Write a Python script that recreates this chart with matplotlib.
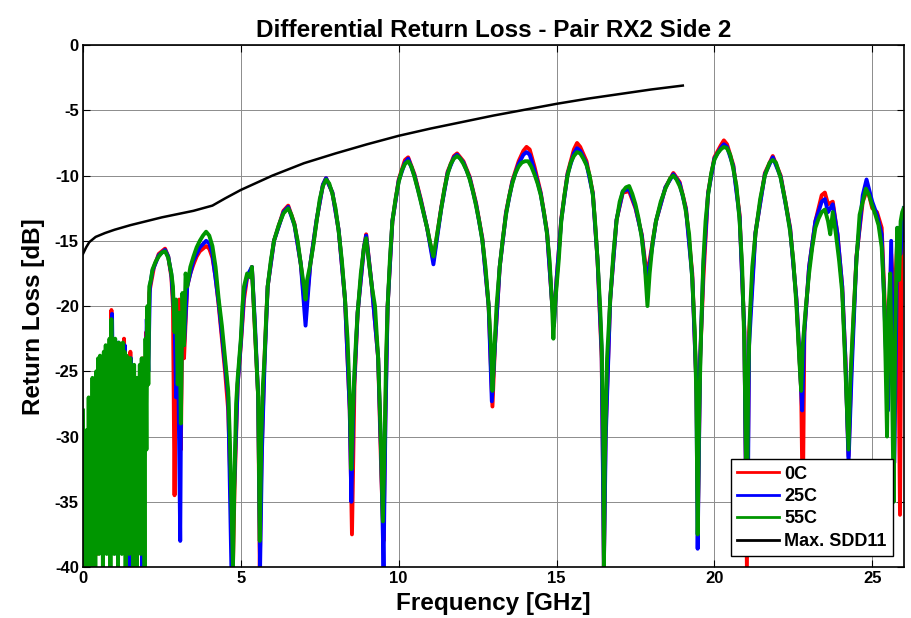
import matplotlib
matplotlib.use("Agg")
import matplotlib.pyplot as plt

# ---- 55C (green, drawn on top) ----
freq_55c = [
    0.00, 0.03, 0.06, 0.09, 0.12, 0.15, 0.18, 0.21, 0.24, 0.27, 0.30, 0.33, 0.36, 0.39, 0.42,
    0.45, 0.48, 0.51, 0.54, 0.57, 0.60, 0.63, 0.66, 0.69, 0.72, 0.75, 0.78, 0.81, 0.84, 0.87,
    0.90, 0.93, 0.96, 0.99, 1.02, 1.05, 1.08, 1.11, 1.14, 1.17, 1.20, 1.23, 1.26, 1.29, 1.32,
    1.35, 1.38, 1.41, 1.44, 1.47, 1.50, 1.53, 1.56, 1.59, 1.62, 1.65, 1.68, 1.71, 1.74, 1.77,
    1.80, 1.83, 1.86, 1.89, 1.92, 1.95, 1.98, 2.01, 2.04, 2.07, 2.10,
    2.15, 2.2, 2.3, 2.4, 2.5, 2.6, 2.7, 2.8, 2.85, 2.9, 2.95, 3.0, 3.05, 3.1, 3.15, 3.2, 3.25,
    3.3, 3.4, 3.5, 3.6, 3.7, 3.8, 3.9, 4.0, 4.1, 4.2, 4.3, 4.4, 4.5, 4.6, 4.65, 4.7, 4.75,
    4.8, 4.85, 4.9, 5.0, 5.05, 5.1, 5.2, 5.3, 5.35, 5.4, 5.45, 5.5, 5.55, 5.6, 5.65, 5.7,
    5.75, 5.8, 5.85, 5.95, 6.05, 6.2, 6.35, 6.5, 6.6, 6.7, 6.8, 6.9, 7.0, 7.05, 7.1, 7.2,
    7.3, 7.4, 7.5, 7.6, 7.7, 7.8, 7.9, 8.0, 8.1, 8.2, 8.3, 8.38, 8.45, 8.5, 8.55, 8.6, 8.65,
    8.7, 8.8, 8.9, 8.97, 9.05, 9.15, 9.25, 9.35, 9.42, 9.5, 9.56, 9.6, 9.65, 9.72, 9.8, 9.9,
    10.0, 10.1, 10.2, 10.3, 10.4, 10.5, 10.6, 10.7, 10.8, 10.9, 11.0, 11.1, 11.15, 11.25,
    11.35, 11.45, 11.55, 11.65, 11.75, 11.85, 11.95, 12.05, 12.15, 12.25, 12.35, 12.45,
    12.55, 12.65, 12.75, 12.85, 12.92, 12.97, 13.02, 13.1, 13.2, 13.3, 13.4, 13.5, 13.6,
    13.7, 13.8, 13.9, 14.0, 14.1, 14.2, 14.3, 14.4, 14.5, 14.6, 14.7, 14.78, 14.85, 14.9,
    14.95, 15.0, 15.07, 15.15, 15.25, 15.35, 15.45, 15.55, 15.65, 15.75, 15.85, 15.95,
    16.05, 16.15, 16.22, 16.3, 16.38, 16.43, 16.48, 16.5, 16.53, 16.6, 16.7, 16.8, 16.9,
    17.0, 17.1, 17.2, 17.3, 17.4, 17.5, 17.6, 17.7, 17.8, 17.88, 17.95, 18.05, 18.15, 18.3,
    18.45, 18.6, 18.7, 18.8, 18.9, 19.0, 19.1, 19.2, 19.3, 19.38, 19.43, 19.47, 19.52,
    19.58, 19.65, 19.72, 19.8, 19.9, 20.0, 20.1, 20.2, 20.3, 20.4, 20.5, 20.6, 20.7, 20.8,
    20.88, 20.95, 21.0, 21.03, 21.07, 21.12, 21.2, 21.3, 21.45, 21.6, 21.75, 21.85, 21.95,
    22.1, 22.25, 22.4, 22.5, 22.6, 22.7, 22.75, 22.8, 22.9, 23.0, 23.1, 23.2, 23.3, 23.4,
    23.5, 23.6, 23.67, 23.75, 23.85, 23.95, 24.05, 24.12, 24.2, 24.25, 24.3, 24.4, 24.5,
    24.6, 24.7, 24.8, 24.9, 25.0, 25.1, 25.2, 25.3, 25.37, 25.42, 25.47, 25.52, 25.57,
    25.62, 25.68, 25.73, 25.79, 25.85, 25.9, 25.95, 26.0,
]
rl_55c = [
    -28.0, -40.0, -31.0, -39.0, -29.5, -40.0, -27.0, -38.0, -28.0, -40.0, -25.5, -37.0, -26.5, -40.0, -25.0,
    -38.0, -24.0, -39.0, -23.8, -37.0, -24.5, -40.0, -23.5, -36.0, -23.0, -39.0, -24.0, -37.0, -22.5, -40.0,
    -21.0, -36.0, -22.5, -39.0, -22.5, -37.0, -23.5, -40.0, -22.8, -38.0, -23.0, -39.0, -22.8, -36.0, -23.5,
    -40.0, -23.8, -37.0, -24.0, -39.0, -24.0, -36.0, -25.0, -40.0, -24.5, -37.0, -25.5, -40.0, -25.5, -36.0,
    -24.5, -39.0, -24.0, -35.0, -24.5, -40.0, -22.5, -31.0, -20.0, -26.0, -18.5,
    -18.0, -17.2, -16.6, -16.2, -15.9, -15.8, -16.3, -17.5, -18.5, -22.0, -19.5, -26.0, -20.5, -29.0, -19.0, -23.0, -17.5,
    -18.5, -17.0, -16.2, -15.5, -15.0, -14.6, -14.3, -14.6, -15.4, -17.0, -19.5, -21.5, -24.0, -26.5, -30.0, -35.0, -40.0,
    -33.0, -27.5, -25.5, -22.5, -20.0, -18.5, -17.5, -17.8, -17.0, -19.5, -22.0, -24.5, -27.0, -38.0, -30.0, -26.0,
    -24.0, -21.0, -18.5, -16.5, -15.0, -13.8, -12.9, -12.5, -13.0, -13.8, -15.0, -16.8, -18.5, -19.5, -18.0, -16.8,
    -15.3, -13.5, -11.8, -10.8, -10.3, -10.6, -11.4, -12.5, -14.3, -16.5, -19.5, -22.5, -27.0, -32.5, -28.0, -25.0, -22.5,
    -20.5, -17.5, -15.5, -14.8, -16.5, -18.5, -20.0, -24.0, -29.0, -36.5, -30.0, -24.0, -20.0, -16.5, -13.5, -11.8,
    -10.5, -9.6, -9.1, -8.9, -9.3, -10.1, -11.0, -12.0, -13.0, -14.0, -15.2, -16.2, -15.5, -14.0,
    -12.5, -11.0, -9.9, -9.1, -8.7, -8.5, -8.7, -9.1, -9.6, -10.3, -11.2, -12.3,
    -13.5, -15.0, -17.0, -20.0, -23.0, -26.5, -24.0, -20.0, -17.0, -14.8, -13.0, -11.6, -10.6,
    -9.8, -9.3, -9.0, -8.9, -8.9, -9.3, -9.9, -10.6, -11.5, -12.8, -14.5, -16.5, -19.5, -22.5,
    -20.0, -18.5, -16.5, -13.5, -11.5, -10.0, -9.0, -8.5, -8.2, -8.3, -8.7, -9.2,
    -10.0, -11.5, -13.5, -16.5, -20.0, -23.0, -30.0, -40.0, -32.0, -24.0, -19.5, -16.0, -13.5,
    -12.0, -11.2, -10.9, -10.8, -11.4, -12.2, -13.3, -14.8, -17.0, -20.0, -17.5, -15.0, -13.5, -12.0,
    -11.0, -10.2, -10.0, -10.3, -10.8, -11.5, -12.8, -14.5, -18.0, -22.0, -27.0, -37.5, -28.0,
    -22.0, -16.5, -13.5, -11.5, -9.8, -8.8, -8.3, -8.0, -7.8, -7.9, -8.4, -9.5, -10.8, -13.5,
    -17.0, -23.0, -31.5, -38.0, -26.0, -21.0, -17.0, -14.5, -11.8, -10.0, -9.0, -8.8, -9.0,
    -10.2, -12.0, -14.3, -16.5, -20.0, -24.5, -26.5, -23.0, -20.0, -17.5, -15.5, -14.0, -13.3, -12.8,
    -12.6, -13.5, -14.5, -12.8, -14.5, -16.5, -19.0, -23.0, -28.0, -31.0, -26.0, -21.0, -16.5,
    -13.0, -12.0, -11.0, -11.5, -12.3, -13.0, -13.8, -15.5, -19.0, -24.0, -30.0, -20.0, -17.5,
    -25.0, -35.0, -22.0, -14.0, -18.0, -13.5, -12.8, -12.5,
]

# ---- 0C (red) ----
freq_0c = [
    0.00, 0.05, 0.10, 0.15, 0.20, 0.25, 0.30, 0.35, 0.40, 0.45, 0.50, 0.55, 0.60, 0.65, 0.70,
    0.75, 0.80, 0.85, 0.90, 0.95, 1.00, 1.05, 1.10, 1.15, 1.20, 1.25, 1.30, 1.35, 1.40, 1.45,
    1.50, 1.55, 1.60, 1.65, 1.70, 1.75, 1.80, 1.85, 1.90, 1.95, 2.00, 2.05, 2.10,
    2.15, 2.25, 2.4, 2.5, 2.6, 2.7, 2.8, 2.85, 2.9, 2.95, 3.0, 3.05, 3.1, 3.15, 3.2, 3.3,
    3.4, 3.5, 3.6, 3.7, 3.8, 3.9, 4.0, 4.1, 4.2, 4.3, 4.4, 4.5, 4.6, 4.7, 4.75, 4.8, 4.9,
    5.0, 5.1, 5.2, 5.3, 5.35, 5.45, 5.55, 5.6, 5.65, 5.75, 5.85, 6.05, 6.35, 6.5, 6.7, 6.9,
    7.05, 7.2, 7.4, 7.6, 7.7, 7.9, 8.1, 8.3, 8.45, 8.52, 8.6, 8.7, 8.9, 8.97, 9.15, 9.35,
    9.45, 9.52, 9.58, 9.65, 9.8, 10.0, 10.2, 10.3, 10.5, 10.7, 10.9, 11.1, 11.35, 11.55,
    11.75, 11.85, 12.05, 12.25, 12.45, 12.65, 12.85, 12.97, 13.05, 13.2, 13.4, 13.6, 13.8,
    13.95, 14.05, 14.15, 14.3, 14.5, 14.7, 14.85, 14.92, 15.0, 15.15, 15.35, 15.55, 15.65,
    15.75, 15.95, 16.15, 16.3, 16.43, 16.48, 16.5, 16.55, 16.7, 16.9, 17.1, 17.3, 17.5,
    17.7, 17.85, 17.95, 18.15, 18.45, 18.7, 18.9, 19.1, 19.3, 19.43, 19.48, 19.55, 19.65,
    19.8, 20.0, 20.2, 20.3, 20.4, 20.6, 20.8, 20.95, 21.03, 21.1, 21.3, 21.6, 21.85, 22.1,
    22.4, 22.6, 22.75, 22.8, 22.85, 23.0, 23.2, 23.4, 23.5, 23.6, 23.75, 23.9, 24.05, 24.15,
    24.25, 24.35, 24.5, 24.7, 24.85, 25.0, 25.15, 25.3, 25.4, 25.5, 25.6, 25.7, 25.8, 25.88,
    25.93, 26.0,
]
rl_0c = [
    -30.0, -38.0, -32.0, -40.0, -28.0, -37.0, -27.0, -35.0, -26.5, -39.0, -24.5, -33.0, -25.0, -36.0, -24.0,
    -31.0, -23.5, -34.0, -20.3, -30.0, -22.8, -36.0, -23.0, -29.0, -23.2, -37.0, -22.5, -30.0, -24.0, -38.0,
    -23.5, -32.0, -26.0, -40.0, -25.5, -33.0, -26.0, -38.0, -24.0, -31.0, -22.0, -26.0, -19.0,
    -18.3, -17.0, -16.0, -15.8, -15.6, -16.2, -17.8, -20.0, -34.5, -21.0, -25.0, -19.5, -31.0, -20.0, -24.0, -18.5,
    -17.5, -16.8, -16.2, -15.8, -15.6, -15.4, -15.6, -16.3, -17.8, -20.0, -22.5, -25.0, -28.0, -36.0, -40.0, -34.0, -26.0,
    -23.0, -19.5, -17.8, -17.5, -17.0, -22.0, -27.0, -40.0, -32.0, -24.0, -18.5, -15.0, -12.7, -12.3, -13.7, -16.8,
    -20.5, -16.8, -13.4, -10.7, -10.2, -11.3, -14.2, -19.5, -28.0, -37.5, -26.0, -20.5, -15.5, -14.5, -18.5, -24.0,
    -33.0, -38.0, -28.0, -20.0, -13.5, -10.3, -8.8, -8.6, -9.9, -11.8, -14.0, -16.5, -12.4, -9.7,
    -8.5, -8.3, -8.9, -10.1, -12.1, -14.8, -20.0, -27.7, -23.0, -17.0, -12.8, -10.4, -8.9,
    -8.1, -7.8, -8.0, -9.3, -11.3, -14.3, -19.5, -21.0, -18.0, -13.3, -9.8, -8.0, -7.5,
    -7.8, -8.9, -11.3, -16.5, -24.0, -34.0, -40.0, -30.0, -19.5, -13.4, -11.3, -11.2, -12.5,
    -14.5, -17.5, -16.5, -13.5, -10.9, -9.8, -10.5, -12.5, -17.5, -26.0, -36.0, -24.0, -18.0,
    -11.3, -8.6, -7.7, -7.3, -7.6, -9.2, -13.0, -22.0, -40.0, -22.0, -14.4, -9.8, -8.5, -10.0,
    -14.0, -19.5, -26.5, -36.0, -22.0, -17.0, -13.5, -11.5, -11.3, -12.2, -12.0, -14.5, -18.5, -24.0,
    -31.5, -24.0, -16.2, -12.0, -11.0, -12.5, -12.8, -14.0, -20.0, -26.0, -16.0, -20.0, -14.5, -36.0,
    -15.0, -13.0,
]

# ---- 25C (blue) ----
freq_25c = [
    0.02, 0.07, 0.12, 0.17, 0.22, 0.27, 0.32, 0.37, 0.42, 0.47, 0.52, 0.57, 0.62, 0.67, 0.72,
    0.77, 0.82, 0.87, 0.92, 0.97, 1.02, 1.07, 1.12, 1.17, 1.22, 1.27, 1.32, 1.37, 1.42, 1.47,
    1.52, 1.57, 1.62, 1.67, 1.72, 1.77, 1.82, 1.87, 1.92, 1.97, 2.02, 2.07, 2.12,
    2.2, 2.4, 2.6, 2.7, 2.8, 2.9, 2.95, 3.0, 3.08, 3.12, 3.2, 3.3, 3.5, 3.7, 3.9, 4.0, 4.1,
    4.3, 4.5, 4.6, 4.7, 4.8, 4.9, 5.0, 5.1, 5.2, 5.35, 5.45, 5.55, 5.61, 5.67, 5.75, 5.85,
    6.05, 6.35, 6.5, 6.7, 6.9, 7.05, 7.2, 7.4, 7.6, 7.7, 7.9, 8.1, 8.3, 8.45, 8.5, 8.57,
    8.7, 8.9, 8.97, 9.15, 9.35, 9.45, 9.52, 9.58, 9.65, 9.8, 10.0, 10.2, 10.3, 10.5, 10.7,
    10.9, 11.1, 11.35, 11.55, 11.75, 11.85, 12.05, 12.25, 12.45, 12.65, 12.85, 12.95, 13.05,
    13.2, 13.4, 13.6, 13.8, 13.95, 14.05, 14.15, 14.3, 14.5, 14.7, 14.85, 14.92, 15.0, 15.15,
    15.35, 15.55, 15.65, 15.75, 15.95, 16.15, 16.3, 16.43, 16.5, 16.56, 16.7, 16.9, 17.1,
    17.3, 17.5, 17.7, 17.85, 17.95, 18.15, 18.45, 18.7, 18.9, 19.1, 19.3, 19.43, 19.47,
    19.55, 19.65, 19.8, 20.0, 20.2, 20.3, 20.4, 20.6, 20.8, 20.95, 21.0, 21.05, 21.1, 21.3,
    21.6, 21.85, 22.1, 22.4, 22.6, 22.72, 22.78, 22.85, 23.0, 23.2, 23.4, 23.5, 23.6, 23.75,
    23.9, 24.05, 24.15, 24.25, 24.35, 24.5, 24.7, 24.82, 25.0, 25.15, 25.3, 25.4, 25.5, 25.6,
    25.7, 25.8, 25.9, 26.0,
]
rl_25c = [
    -33.0, -40.0, -31.0, -38.0, -29.0, -40.0, -26.0, -36.0, -25.5, -37.0, -24.0, -34.0, -24.8, -38.0, -23.5,
    -32.0, -23.0, -35.0, -20.6, -31.0, -23.0, -39.0, -22.8, -30.0, -23.5, -36.0, -23.0, -31.0, -24.5, -40.0,
    -24.0, -33.0, -25.8, -37.0, -26.0, -32.0, -25.0, -40.0, -24.5, -29.0, -21.0, -25.0, -18.5,
    -17.3, -16.1, -15.7, -16.2, -17.6, -21.0, -27.0, -21.0, -38.0, -22.0, -23.0, -18.5, -16.5, -15.5, -15.0, -15.2, -16.0,
    -19.8, -24.5, -27.0, -40.0, -33.0, -26.0, -22.8, -19.0, -17.7, -17.0, -21.5, -27.0, -40.0, -31.0, -24.5, -18.5,
    -15.0, -12.8, -12.4, -13.8, -16.8, -21.5, -16.8, -13.4, -10.7, -10.2, -11.3, -14.2, -19.5, -28.0, -35.0, -27.0,
    -20.5, -15.5, -14.6, -18.5, -24.0, -32.0, -40.0, -29.0, -20.0, -13.5, -10.4, -9.0, -8.7, -10.0, -11.9,
    -14.0, -16.8, -12.5, -9.8, -8.6, -8.4, -9.0, -10.2, -12.2, -14.9, -20.0, -27.3, -23.0,
    -17.0, -12.9, -10.5, -9.1, -8.4, -8.2, -8.4, -9.6, -11.4, -14.4, -19.5, -21.5, -18.0, -13.4,
    -9.9, -8.3, -7.9, -8.1, -9.1, -11.4, -16.5, -23.5, -40.0, -30.0, -19.5, -13.4, -11.2,
    -11.0, -12.4, -14.6, -18.0, -16.8, -13.5, -10.9, -9.9, -10.6, -12.6, -17.8, -26.0, -38.6,
    -24.0, -17.0, -11.4, -8.7, -7.9, -7.6, -7.8, -9.3, -13.2, -22.0, -34.0, -38.0, -23.0, -14.4,
    -9.9, -8.6, -10.1, -14.1, -19.5, -25.0, -28.0, -22.0, -17.0, -13.5, -12.0, -11.8, -12.8, -12.2,
    -14.5, -18.5, -24.0, -32.0, -25.0, -16.3, -11.5, -10.3, -12.0, -13.0, -14.5, -21.0, -28.0, -15.0,
    -32.0, -14.0, -16.0, -12.5,
]

# ---- Max. SDD11 limit ----
freq_spec = [0.0, 0.1, 0.2, 0.4, 0.7, 1.0, 1.5, 2.0, 2.5, 3.0, 3.5, 4.1, 4.5, 5.0, 6.0,
             7.0, 8.0, 9.0, 10.0, 11.0, 12.0, 13.0, 14.0, 15.0, 16.0, 17.0, 18.0, 19.0]
rl_spec = [-16.0, -15.5, -15.1, -14.7, -14.4, -14.15, -13.8, -13.5, -13.2, -12.95, -12.7,
           -12.3, -11.75, -11.1, -10.0, -9.05, -8.3, -7.6, -6.95, -6.4, -5.9, -5.4, -4.95,
           -4.5, -4.1, -3.75, -3.4, -3.1]

plt.rcParams["font.family"] = ["Liberation Sans", "DejaVu Sans"]
plt.rcParams["font.weight"] = "bold"
plt.rcParams["axes.unicode_minus"] = False

fig = plt.figure(figsize=(9.12, 6.18), dpi=100)
ax = fig.add_axes([0.091, 0.0825, 0.900, 0.8445])

ax.plot(freq_0c, rl_0c, color="#ff0000", lw=2.8, label="0C")
ax.plot(freq_25c, rl_25c, color="#0000ff", lw=2.8, label="25C")
ax.plot(freq_55c, rl_55c, color="#009600", lw=2.8, label="55C")
ax.plot(freq_spec, rl_spec, color="black", lw=1.8, label="Max. SDD11")

ax.set_xlim(0, 26)
ax.set_ylim(-40, 0)
ax.set_xticks([0, 5, 10, 15, 20, 25])
ax.set_yticks([0, -5, -10, -15, -20, -25, -30, -35, -40])
ax.grid(True, color="0.55", lw=0.7)
ax.tick_params(direction="in", top=True, right=True, labelsize=12, length=5, width=0.8, pad=3)
for lbl in ax.get_xticklabels() + ax.get_yticklabels():
    lbl.set_fontweight("bold")
for sp in ax.spines.values():
    sp.set_linewidth(1.2)

ax.set_title("Differential Return Loss - Pair RX2 Side 2", fontsize=17.5, fontweight="bold", pad=6)
ax.set_xlabel("Frequency [GHz]", fontsize=17.5, fontweight="bold")
ax.set_ylabel("Return Loss [dB]", fontsize=17.5, fontweight="bold")
ax.xaxis.set_label_coords(0.5, -0.048)
ax.xaxis.label.set_va("top")
ax.yaxis.set_label_coords(-0.046, 0.48)

leg = ax.legend(loc="lower right", fontsize=13, fancybox=False, framealpha=1,
                edgecolor="black", borderpad=0.35, labelspacing=0.3, handlelength=2.3,
                handletextpad=0.3, borderaxespad=0.6)
leg.get_frame().set_linewidth(1.0)
for t in leg.get_texts():
    t.set_fontweight("bold")
for h in leg.get_lines():
    h.set_linewidth(2.0)

fig.savefig("out.png", dpi=100)
